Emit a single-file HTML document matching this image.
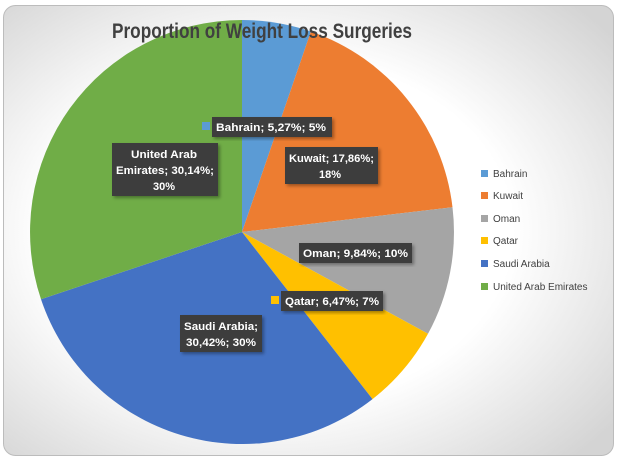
<!DOCTYPE html>
<html><head><style>
body{margin:0;background:#fff;}
</style></head><body>
<svg width="617" height="459" xmlns="http://www.w3.org/2000/svg" style="display:block;font-family:'Liberation Sans',sans-serif">
<defs>
<radialGradient id="bg" cx="0.45" cy="0.5" r="0.7">
<stop offset="0.55" stop-color="#ffffff"/>
<stop offset="1" stop-color="#d4d4d4"/>
</radialGradient>
<filter id="sh" x="-20%" y="-20%" width="140%" height="140%"><feDropShadow dx="2" dy="2" stdDeviation="1.5" flood-opacity="0.35"/></filter>
</defs>
<rect x="3.5" y="5.5" width="610" height="450" rx="12" fill="url(#bg)" stroke="#bcbcbc"/>
<g>
<path d="M242,232 L242,20 A212,212 0 0 1 310.9,31.5 Z" fill="#5b9bd5"/>
<path d="M242,232 L310.9,31.5 A212,212 0 0 1 452.5,207.2 Z" fill="#ed7d31"/>
<path d="M242,232 L452.5,207.2 A212,212 0 0 1 428,333.8 Z" fill="#a5a5a5"/>
<path d="M242,232 L428,333.8 A212,212 0 0 1 372.5,399.1 Z" fill="#ffc000"/>
<path d="M242,232 L372.5,399.1 A212,212 0 0 1 41,299.3 Z" fill="#4472c4"/>
<path d="M242,232 L41,299.3 A212,212 0 0 1 242,20 Z" fill="#70ad47"/>
</g>
<text x="112" y="38" font-size="21" font-weight="bold" fill="#404040" textLength="300" lengthAdjust="spacingAndGlyphs">Proportion of Weight Loss Surgeries</text>
<g font-size="11" font-weight="bold" fill="#fff">
<rect x="212" y="117" width="120" height="20" fill="#3d3d3d" filter="url(#sh)"/>
<rect x="202" y="122" width="8" height="8" fill="#5b9bd5"/>
<text x="216" y="131" textLength="110" lengthAdjust="spacingAndGlyphs">Bahrain; 5,27%; 5%</text>
<rect x="285" y="147" width="93" height="37" fill="#3d3d3d" filter="url(#sh)"/>
<text x="289" y="162" textLength="85" lengthAdjust="spacingAndGlyphs">Kuwait; 17,86%;</text><text x="319" y="178">18%</text>
<rect x="112" y="143" width="106" height="53" fill="#3d3d3d" filter="url(#sh)"/>
<text x="131" y="158" textLength="66" lengthAdjust="spacingAndGlyphs">United Arab</text>
<text x="116" y="174" textLength="98" lengthAdjust="spacingAndGlyphs">Emirates; 30,14%;</text>
<text x="153" y="190">30%</text>
<rect x="299" y="243" width="113" height="20" fill="#3d3d3d" filter="url(#sh)"/>
<text x="303" y="257" textLength="105" lengthAdjust="spacingAndGlyphs">Oman; 9,84%; 10%</text>
<rect x="281" y="291" width="102" height="20" fill="#3d3d3d" filter="url(#sh)"/>
<rect x="271" y="296" width="8" height="8" fill="#ffc000"/>
<text x="285" y="305" textLength="94" lengthAdjust="spacingAndGlyphs">Qatar; 6,47%; 7%</text>
<rect x="180" y="315" width="82" height="37" fill="#3d3d3d" filter="url(#sh)"/>
<text x="184" y="330" textLength="74" lengthAdjust="spacingAndGlyphs">Saudi Arabia;</text>
<text x="186" y="346" textLength="70" lengthAdjust="spacingAndGlyphs">30,42%; 30%</text>
</g>
<g font-size="10" fill="#404040">
<rect x="481" y="170" width="7" height="7" fill="#5b9bd5"/><text x="493" y="177">Bahrain</text>
<rect x="481" y="192" width="7" height="7" fill="#ed7d31"/><text x="493" y="199">Kuwait</text>
<rect x="481" y="215" width="7" height="7" fill="#a5a5a5"/><text x="493" y="222">Oman</text>
<rect x="481" y="237" width="7" height="7" fill="#ffc000"/><text x="493" y="244">Qatar</text>
<rect x="481" y="260" width="7" height="7" fill="#4472c4"/><text x="493" y="267">Saudi Arabia</text>
<rect x="481" y="283" width="7" height="7" fill="#70ad47"/><text x="493" y="290">United Arab Emirates</text>
</g>
</svg>
</body></html>
